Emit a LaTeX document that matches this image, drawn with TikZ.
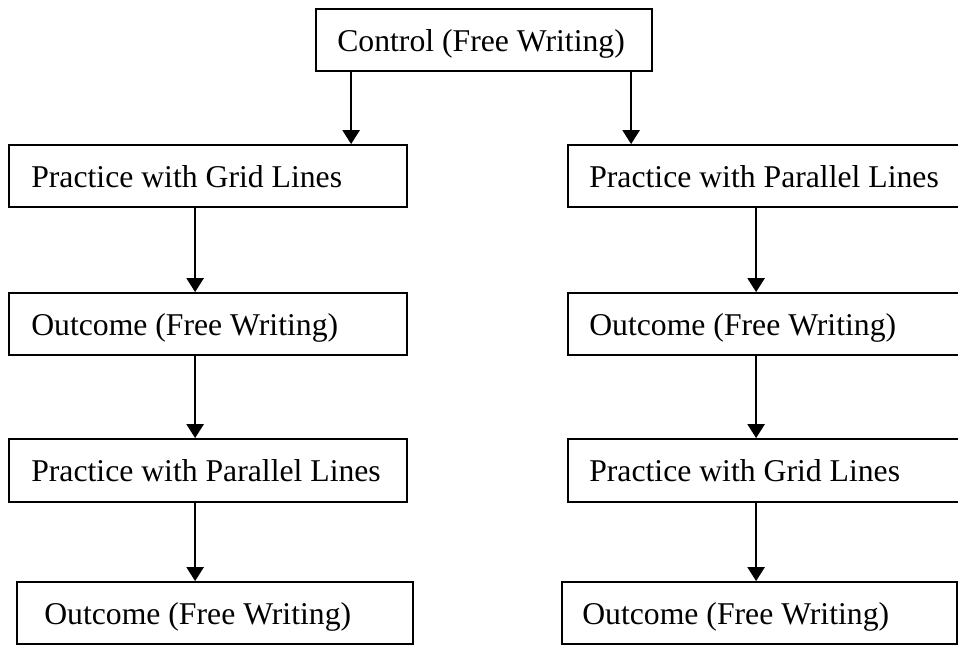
\documentclass[tikz,border=0pt]{standalone}
\usepackage{fontspec}
\setmainfont{Liberation Serif}
\usetikzlibrary{arrows.meta,calc}
\begin{document}
\begin{tikzpicture}[x=1pt,y=-1pt,
  box/.style={draw=black,line width=1.8pt,rectangle,inner sep=0pt,minimum height=62pt},
  lbl/.style={inner sep=0pt,anchor=base west,font=\fontsize{31.7}{38}\selectfont},
  arr/.style={line width=2.4pt,-{Triangle[width=17pt,length=14pt]}}]
\useasboundingbox (0,0) rectangle (958,646);
% boxes
\node[box,minimum width=336pt] (top) at (484,40) {};
\node[box,minimum width=398pt] (L1) at (208,176) {};
\node[box,minimum width=398pt] (L2) at (208,324) {};
\node[box,minimum width=398pt,minimum height=63pt] (L3) at (208,470.5) {};
\node[box,minimum width=396pt] (L4) at (215,613) {};
\node[box,minimum width=391pt] (R1) at (763.5,176) {};
\node[box,minimum width=391pt] (R2) at (763.5,324) {};
\node[box,minimum width=391pt,minimum height=63pt] (R3) at (763.5,470.5) {};
\node[box,minimum width=395pt] (R4) at (759.5,613) {};
% labels
\node[lbl] (ttop) at ([xshift=22pt,yshift=-11pt]top.west) {Control (Free Writing)};
\node[lbl] (tL1) at ([xshift=23pt,yshift=-11pt]L1.west) {Practice with Grid Lines};
\node[lbl] (tL2) at ([xshift=23pt,yshift=-11pt]L2.west) {Outcome (Free Writing)};
\node[lbl] (tL3) at ([xshift=23pt,yshift=-11pt]L3.west) {Practice with Parallel Lines};
\node[lbl] (tL4) at ([xshift=28pt,yshift=-11pt]L4.west) {Outcome (Free Writing)};
\node[lbl] (tR1) at ([xshift=22pt,yshift=-11pt]R1.west) {Practice with Parallel Lines};
\node[lbl] (tR2) at ([xshift=22pt,yshift=-11pt]R2.west) {Outcome (Free Writing)};
\node[lbl] (tR3) at ([xshift=22pt,yshift=-11pt]R3.west) {Practice with Grid Lines};
\node[lbl] (tR4) at ([xshift=21pt,yshift=-11pt]R4.west) {Outcome (Free Writing)};
% connectors
\draw[arr] ([xshift=36pt]top.south west) -- ([xshift=36pt]top.south west |- L1.north);
\draw[arr] ([xshift=316pt]top.south west) -- ([xshift=316pt]top.south west |- R1.north);
\draw[arr] ([xshift=187pt]L1.south west) -- ([xshift=187pt]L1.south west |- L2.north);
\draw[arr] ([xshift=187pt]L2.south west) -- ([xshift=187pt]L2.south west |- L3.north);
\draw[arr] ([xshift=187pt]L3.south west) -- ([xshift=187pt]L3.south west |- L4.north);
\draw[arr] ([xshift=189pt]R1.south west) -- ([xshift=189pt]R1.south west |- R2.north);
\draw[arr] ([xshift=189pt]R2.south west) -- ([xshift=189pt]R2.south west |- R3.north);
\draw[arr] ([xshift=189pt]R3.south west) -- ([xshift=189pt]R3.south west |- R4.north);
\end{tikzpicture}
\end{document}
